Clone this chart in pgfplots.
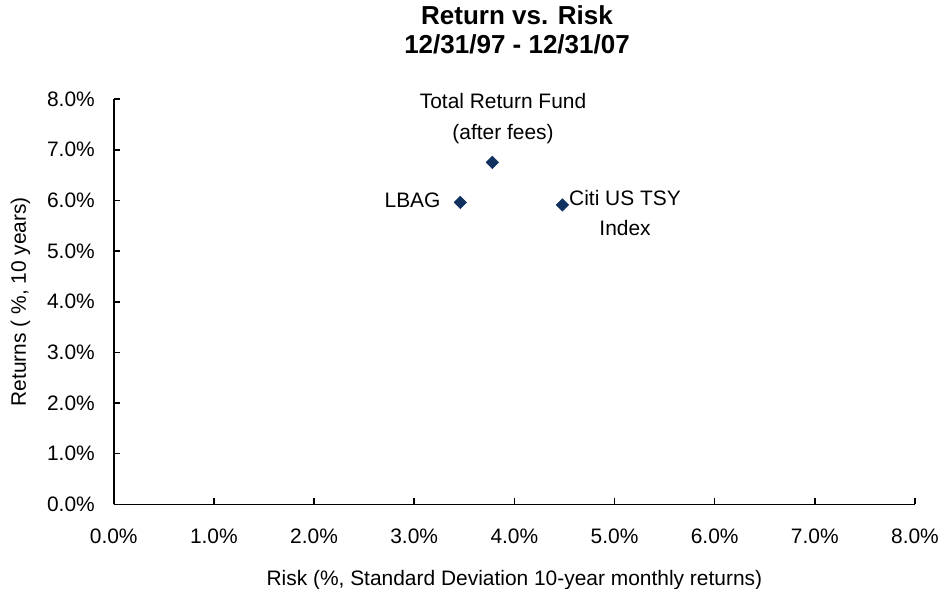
\documentclass[border=0pt]{standalone}
\usepackage{pgfplots}
\pgfplotsset{compat=1.18}
\usepackage{fontspec}
\setmainfont{Liberation Sans}
\definecolor{navy}{RGB}{16,48,96}
\begin{document}
\begin{tikzpicture}
\begin{axis}[
  scale only axis,
  width=601pt, height=304pt,
  xmin=0, xmax=8, ymin=0, ymax=8,
  axis lines=left,
  axis line style={-, line width=1.2pt},
  tick style={line width=1.2pt, black},
  tick align=inside,
  major tick length=5pt,
  xtick={0,1,...,8}, ytick={0,1,...,8},
  /pgf/number format/assume math mode=true,
  xticklabel={\pgfmathprintnumber[fixed,fixed zerofill,precision=1]{\tick}\%},
  yticklabel={\pgfmathprintnumber[fixed,fixed zerofill,precision=1]{\tick}\%},
  ticklabel style={font=\fontsize{15.7}{19}\selectfont},
  xticklabel style={inner sep=0pt, anchor=north, yshift=-18pt},
  yticklabel style={inner sep=0pt, anchor=east, xshift=-14pt},
  xlabel={Risk (\%, Standard Deviation 10-year monthly returns)},
  ylabel={Returns ( \%, 10 years)},
  label style={font=\fontsize{15.7}{19}\selectfont},
  xlabel style={at={(axis description cs:0.5,0)}, anchor=center, yshift=-57pt},
  ylabel style={at={(axis description cs:0,0.5)}, anchor=center, yshift=70pt},
  title={Return vs. Risk\\12/31/97 - 12/31/07},
  title style={at={(axis description cs:0.5,1)}, anchor=center, yshift=46pt, xshift=2pt, align=center, font=\fontsize{19.5}{21.75}\selectfont\bfseries},
  clip=false,
]
\addplot[only marks, mark=square*, mark options={rotate=45}, mark size=3.3pt, color=navy] coordinates {
  (3.78,6.75) (3.46,5.96) (4.48,5.91)
};
\node[align=center, font=\fontsize{15.7}{23}\selectfont] at (axis cs:3.887,7.61) {Total Return Fund\\(after fees)};
\node[anchor=east, inner sep=0pt, font=\fontsize{15.7}{19}\selectfont] at (axis cs:3.265,6.01) {LBAG};
\node[align=center, font=\fontsize{15.7}{22.5}\selectfont] at (axis cs:5.105,5.752) {Citi US TSY\\Index};
\end{axis}
\pgfresetboundingbox
\path (current axis.south west) ++(-85.3pt,-63.2pt) coordinate (bl);
\path (current axis.north east) ++(24pt,74.3pt) coordinate (tr);
\useasboundingbox (bl) rectangle (tr);
\end{tikzpicture}
\end{document}
